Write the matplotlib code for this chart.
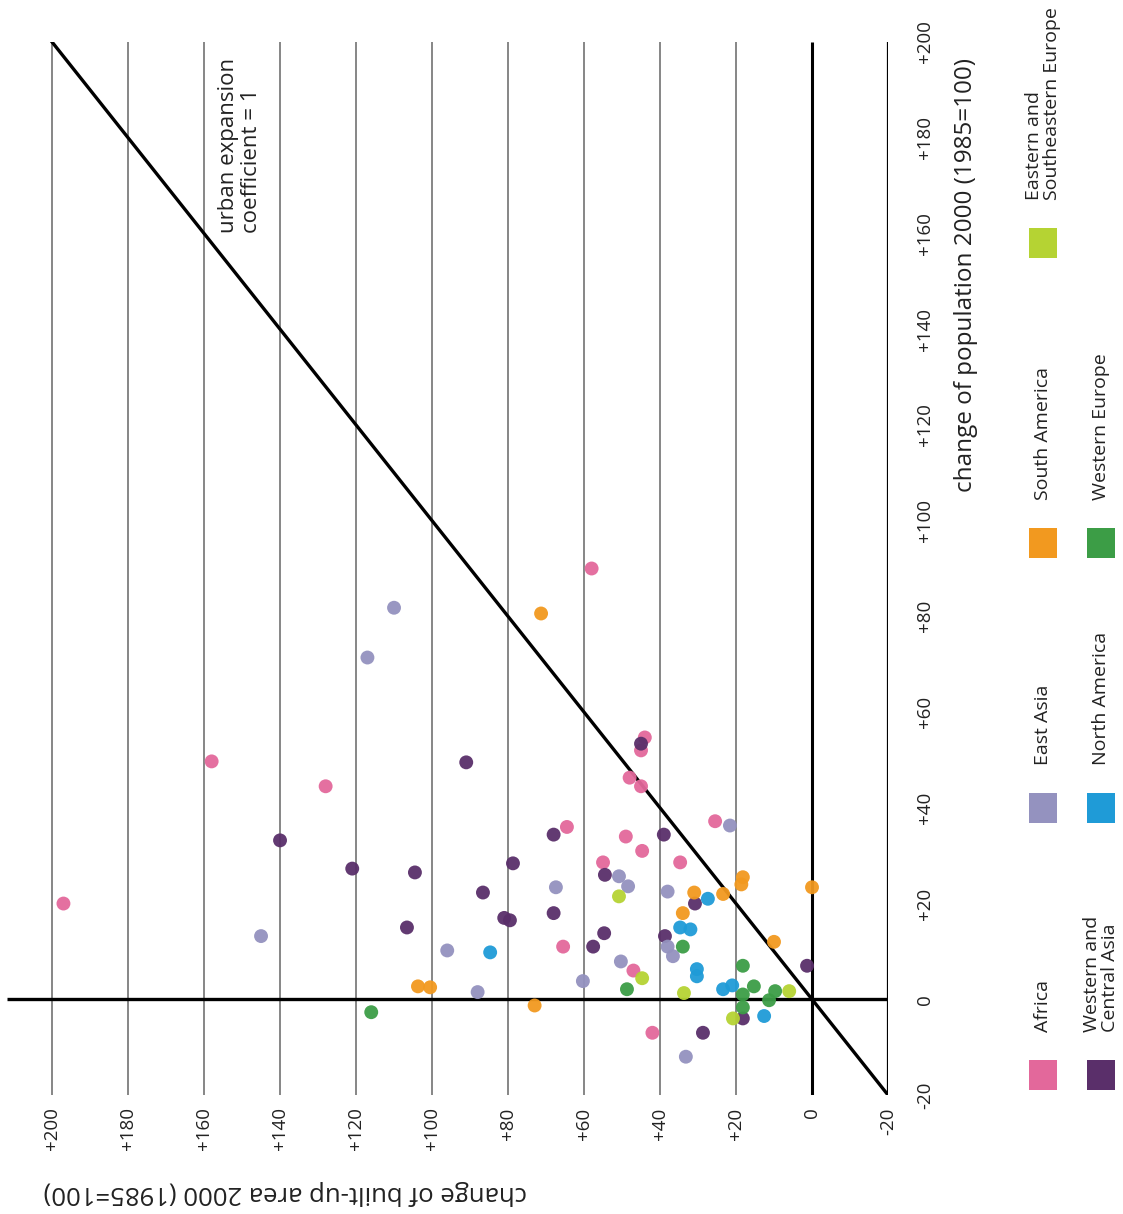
import matplotlib
matplotlib.use("Agg")
import matplotlib.pyplot as plt
from matplotlib.patches import Rectangle

plt.rcParams['font.family'] = ['Open Sans', 'DejaVu Sans']

# change of built-up area / change of population 2000 (1985=100), by region
africa_built = [197, 158, 128, 58, 44, 45, 48, 45, 64.5, 49, 44.7, 55, 34.7, 25.5, 65.5, 47, 42]
africa_pop = [20, 49.7, 44.5, 90, 54.7, 52, 46.3, 44.5, 36, 34, 31, 28.6, 28.6, 37.2, 11, 6, -7]

wcasia_built = [45, 91, 140, 121, 104.5, 78.7, 68, 39, 86.6, 68, 81, 79.5, 106.6, 54.5, 54.7,
                57.6, 38.7, 30.8, 1.3, 18.2, 28.7]
wcasia_pop = [53.4, 49.5, 33.2, 27.3, 26.5, 28.4, 34.4, 34.4, 22.3, 18, 17, 16.5, 15, 26, 13.8,
              11, 13.2, 20, 7, -4, -7]

easia_built = [110, 117, 145, 96, 88, 67.4, 60.3, 50.8, 48.4, 50.3, 38, 38, 36.6, 21.6, 33.2]
easia_pop = [81.8, 71.4, 13.2, 10.2, 1.5, 23.4, 3.8, 25.7, 23.6, 7.9, 22.5, 11, 9, 36.3, -12]

namerica_built = [84.7, 27.4, 34.7, 32, 30.3, 30.3, 23.4, 21, 12.6]
namerica_pop = [9.8, 21, 15, 14.6, 6.3, 4.8, 2.1, 2.9, -3.5]

samerica_built = [71.3, 103.7, 100.5, 73, 31, 23.4, 18.2, 18.6, 0, 34, 10]
samerica_pop = [80.6, 2.7, 2.5, -1.3, 22.3, 22, 25.5, 24, 23.4, 18, 12]

weurope_built = [116, 48.7, 34, 18.2, 18.2, 15.3, 9.7, 11.3, 18.2]
weurope_pop = [-2.7, 2.1, 11, 7, 1, 2.7, 1.7, -0.2, -1.7]

eseurope_built = [50.8, 44.7, 33.7, 6, 20.8]
eseurope_pop = [21.5, 4.4, 1.3, 1.7, -4]

regions = ["Africa", "Western and\nCentral Asia", "East Asia", "North America",
           "South America", "Western Europe", "Eastern and\nSoutheastern Europe"]
colors = ["#e3689b", "#5a2f6a", "#9492bf", "#1f9bd7", "#f2991f", "#3c9d46", "#b5d333"]
built_sets = [africa_built, wcasia_built, easia_built, namerica_built,
              samerica_built, weurope_built, eseurope_built]
pop_sets = [africa_pop, wcasia_pop, easia_pop, namerica_pop,
            samerica_pop, weurope_pop, eseurope_pop]

built_ticks = [200, 180, 160, 140, 120, 100, 80, 60, 40, 20, 0, -20]
built_labels = ["+200", "+180", "+160", "+140", "+120", "+100", "+80", "+60", "+40", "+20", "0", "-20"]
pop_ticks = [-20, 0, 20, 40, 60, 80, 100, 120, 140, 160, 180, 200]
pop_labels = ["-20", "0", "+20", "+40", "+60", "+80", "+100", "+120", "+140", "+160", "+180", "+200"]

W, H = 1123, 1214
fig = plt.figure(figsize=(W / 100, H / 100), dpi=100)
fig.patch.set_facecolor("white")

# axes drawn sideways: built-up change runs right-to-left, population bottom-to-top
ax = fig.add_axes([0, (H - 1095) / H, 888 / W, (1095 - 42) / H])
ax.set_xlim(213.7, -20)
ax.set_ylim(-20, 200)
for s in ax.spines.values():
    s.set_visible(False)

ax.vlines([t for t in built_ticks if t > 0], -20, 200, color="#666666", lw=1.1, zorder=1)
ax.vlines(0, -20, 200, color="black", lw=2.2, zorder=2)
ax.vlines(-20, -20, 200, color="black", lw=1.6, zorder=2)
ax.hlines(0, 211.8, -20, color="black", lw=2.4, zorder=2)
ax.plot([-20, 200], [-20, 200], color="black", lw=2.4, zorder=2)

for b, p, c in zip(built_sets, pop_sets, colors):
    ax.scatter(b, p, s=100, color=c, edgecolors="none", alpha=0.95, zorder=3)

ax.set_xticks(built_ticks)
ax.set_xticklabels(built_labels, rotation=90, fontsize=13.5, color="#222222")
ax.tick_params(axis="x", length=0, pad=9)
ax.yaxis.tick_right()
ax.set_yticks(pop_ticks)
ax.set_yticklabels(pop_labels, rotation=90, va="center", fontsize=13.5, color="#222222")
ax.tick_params(axis="y", length=0, pad=20)

fig.text(240 / W, 1 - 233 / H, "urban expansion\ncoefficient = 1", rotation=90,
         ha="center", va="bottom", multialignment="left", fontsize=16, color="#222222",
         linespacing=1.1)

fig.text(966 / W, 1 - 275 / H, "change of population 2000 (1985=100)", rotation=90,
         ha="center", va="center", fontsize=17.5, color="#222222")
fig.text(285 / W, 1 - 1192 / H, "change of built-up area 2000 (1985=100)", rotation=180,
         ha="center", va="center", fontsize=18.5, color="#222222")

# legend: two columns of colour squares with labels running upward
col_x = [1043, 1101, 1043, 1101, 1043, 1101, 1043]
row_y = [1075, 1075, 808, 808, 543, 543, 243]
sq_w, sq_h = 28, 30
for name, c, cx, cy in zip(regions, colors, col_x, row_y):
    fig.patches.append(Rectangle(((cx - sq_w / 2) / W, 1 - (cy + sq_h / 2) / H), sq_w / W, sq_h / H,
                                 transform=fig.transFigure, facecolor=c, edgecolor="none"))
    fig.text(cx / W, 1 - (cy - sq_h / 2 - 28) / H, name, rotation=90, ha="center", va="bottom",
             multialignment="left", fontsize=14, color="#222222", linespacing=1.05)

fig.savefig("out.png", dpi=100)
